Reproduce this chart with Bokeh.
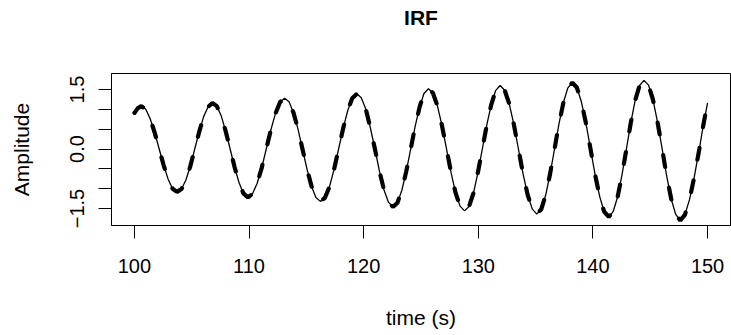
import math
from bokeh.plotting import figure
from bokeh.models import Range1d, FixedTicker, CustomJSTickFormatter, LinearAxis
from bokeh.embed import file_html
from bokeh.resources import INLINE

# ---- data ----
time_s = [100.0, 100.3, 100.6, 100.99, 101.38, 101.77, 102.16, 102.55, 102.94, 103.33, 103.72,
          104.11, 104.49, 104.88, 105.26, 105.65, 106.03, 106.42, 106.8,
          107.19, 107.58, 107.96, 108.35, 108.74, 109.13, 109.51, 109.9,
          110.3, 110.7, 111.1, 111.5, 111.9, 112.3, 112.7, 113.1,
          113.49, 113.88, 114.27, 114.66, 115.05, 115.44, 115.83, 116.22,
          116.62, 117.02, 117.41, 117.81, 118.21, 118.61, 119.0, 119.4,
          119.79, 120.19, 120.58, 120.98, 121.37, 121.76, 122.16, 122.55,
          122.94, 123.33, 123.71, 124.1, 124.49, 124.88, 125.26, 125.65,
          126.04, 126.44, 126.83, 127.23, 127.62, 128.01, 128.41, 128.8,
          129.19, 129.58, 129.96, 130.35, 130.74, 131.13, 131.51, 131.9,
          132.3, 132.7, 133.1, 133.5, 133.9, 134.3, 134.7, 135.1,
          135.49, 135.88, 136.26, 136.65, 137.04, 137.43, 137.81, 138.2,
          138.6, 138.99, 139.39, 139.79, 140.19, 140.59, 140.98, 141.38,
          141.76, 142.15, 142.53, 142.92, 143.3, 143.68, 144.07, 144.45,
          144.85, 145.24, 145.64, 146.04, 146.43, 146.83, 147.22, 147.62,
          148.02, 148.43, 148.85, 149.28, 149.64, 150.0]

irf_true = [0.91, 1.03, 1.08, 1.00, 0.76, 0.41, 0.00, -0.41, -0.76, -1.00, -1.08,
            -1.01, -0.78, -0.43, 0.00, 0.43, 0.81, 1.06, 1.16,
            1.08, 0.83, 0.45, 0.00, -0.46, -0.85, -1.12, -1.22,
            -1.13, -0.87, -0.48, 0.00, 0.48, 0.89, 1.18, 1.28,
            1.19, 0.91, 0.50, 0.00, -0.50, -0.93, -1.22, -1.32,
            -1.23, -0.95, -0.52, 0.00, 0.52, 0.97, 1.28, 1.39,
            1.29, 1.00, 0.54, 0.00, -0.55, -1.02, -1.34, -1.46,
            -1.36, -1.04, -0.57, 0.00, 0.57, 1.06, 1.40, 1.52,
            1.41, 1.08, 0.59, 0.00, -0.59, -1.10, -1.44, -1.56,
            -1.45, -1.11, -0.60, 0.00, 0.61, 1.12, 1.47, 1.60,
            1.48, 1.14, 0.62, 0.00, -0.62, -1.15, -1.51, -1.64,
            -1.52, -1.16, -0.63, 0.00, 0.64, 1.18, 1.54, 1.67,
            1.55, 1.19, 0.65, 0.00, -0.65, -1.20, -1.58, -1.71,
            -1.58, -1.21, -0.66, 0.00, 0.66, 1.22, 1.60, 1.73,
            1.61, 1.24, 0.67, 0.00, -0.68, -1.26, -1.65, -1.80,
            -1.66, -1.27, -0.69, 0.00, 0.62, 1.16]

irf_est = list(irf_true)

x_ticks = [100, 110, 120, 130, 140, 150]
y_label_ticks = [-1.5, 0.0, 1.5]
y_minor_ticks = [-1.0, -0.5, 0.5, 1.0]
title_text = "IRF"

FONT = "Liberation Sans"

p = figure(width=731, height=335, output_backend="svg", toolbar_location=None,
           x_range=Range1d(98, 152), y_range=Range1d(-1.928, 1.903),
           min_border_left=111, min_border_right=1, min_border_top=73,
           min_border_bottom=110, title=None)

p.xgrid.visible = False
p.ygrid.visible = False
p.outline_line_color = "black"
p.outline_line_width = 1
p.outline_line_alpha = 1
p.background_fill_color = "white"
p.border_fill_color = "white"

xa = p.xaxis[0]
xa.ticker = FixedTicker(ticks=x_ticks, minor_ticks=[])
xa.major_tick_out = 13
xa.major_tick_in = 0
xa.minor_tick_out = 0
xa.axis_line_color = "black"
xa.major_tick_line_color = "black"
xa.major_label_text_font = FONT
xa.major_label_text_font_size = "20px"
xa.major_label_text_color = "black"
xa.major_label_standoff = 20
xa.axis_label = "time (s)"
xa.axis_label_text_font = FONT
xa.axis_label_text_font_size = "21px"
xa.axis_label_text_font_style = "normal"
xa.axis_label_text_color = "black"
xa.axis_label_standoff = 30

ya = p.yaxis[0]
ya.ticker = FixedTicker(ticks=y_label_ticks, minor_ticks=y_minor_ticks)
ya.formatter = CustomJSTickFormatter(code="return tick.toFixed(1).replace('-', '\u2212');")
ya.major_tick_out = 13
ya.major_tick_in = 0
ya.minor_tick_out = 13
ya.minor_tick_in = 0
ya.minor_tick_line_color = "black"
ya.minor_tick_line_width = 1
ya.axis_line_color = "black"
ya.major_tick_line_color = "black"
ya.major_label_orientation = "parallel"
ya.major_label_text_font = FONT
ya.major_label_text_font_size = "20px"
ya.major_label_text_color = "black"
ya.major_label_standoff = 14
ya.axis_label = "Amplitude"
ya.axis_label_text_font = FONT
ya.axis_label_text_font_size = "21px"
ya.axis_label_text_font_style = "normal"
ya.axis_label_text_color = "black"
ya.axis_label_standoff = 35

# title drawn as the label of a tick-less axis above the frame
title_axis = LinearAxis(ticker=FixedTicker(ticks=[], minor_ticks=[]),
                        axis_line_color=None, major_tick_line_color=None,
                        minor_tick_line_color=None,
                        major_tick_out=0, major_tick_in=0,
                        minor_tick_out=0, minor_tick_in=0,
                        major_label_standoff=0,
                        axis_label=title_text, axis_label_standoff=45,
                        axis_label_text_font=FONT,
                        axis_label_text_font_size="21px",
                        axis_label_text_font_style="bold",
                        axis_label_text_color="black")
p.add_layout(title_axis, "above")

p.line(time_s, irf_true, line_color="black", line_width=1.3)
p.line(time_s, irf_est, line_color="black", line_width=4.2,
       line_dash="12 21", line_cap="round")

open("out.html", "w").write(file_html(p, INLINE))
